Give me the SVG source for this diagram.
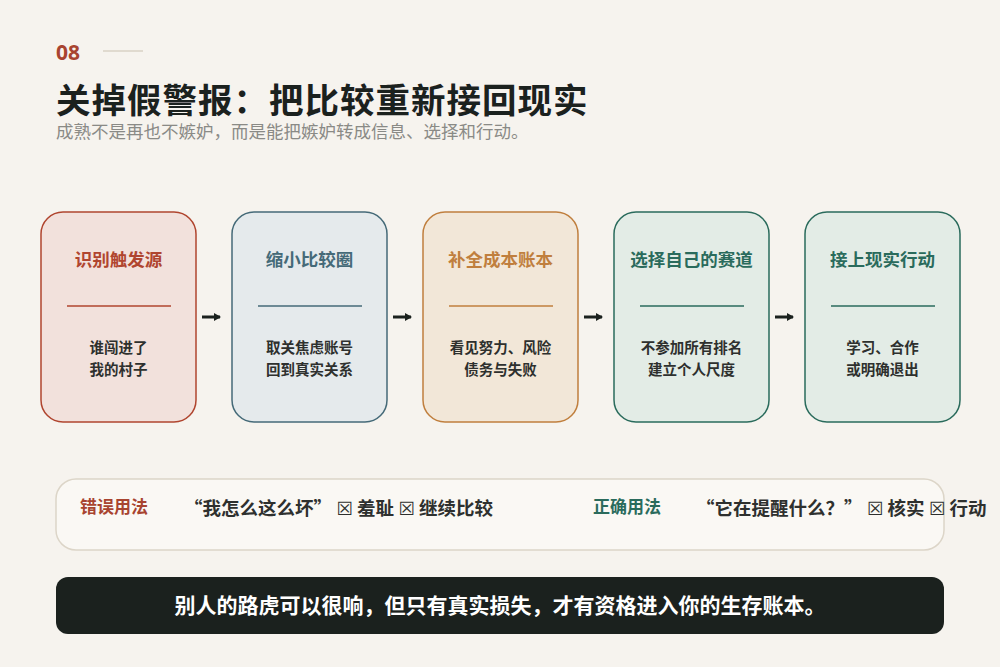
<svg xmlns="http://www.w3.org/2000/svg" width="1000" height="667" viewBox="0 0 1000 667">
<defs>
<marker id="ah" markerWidth="8" markerHeight="8" refX="6" refY="4" orient="auto" markerUnits="userSpaceOnUse">
<path d="M0,0 L7,4 L0,8 Z" fill="#1b211e"/>
</marker>
<style>
text{font-family:"Noto Sans CJK SC","Noto Sans",sans-serif;}
.node rect{stroke-width:1.5;}
.t{font-size:17.5px;font-weight:700;text-anchor:middle;}
.b{font-size:14.5px;font-weight:700;fill:#2e302e;text-anchor:middle;}
.conn line{stroke:#1b211e;stroke-width:3;}
.ph{font-size:18.5px;font-weight:700;fill:#2e302e;}
.x{font-family:"DejaVu Sans",sans-serif;font-weight:400;}
</style>
</defs>
<rect width="1000" height="667" fill="#f6f3ee"/>
<g id="header">
<text x="56" y="60" font-size="21" font-weight="700" fill="#a84430" style="font-family:'Noto Sans','Noto Sans CJK SC',sans-serif">08</text>
<line x1="103" y1="51" x2="143" y2="51" stroke="#d9d2c5" stroke-width="1.5"/>
<text x="56" y="113" font-size="34.5" font-weight="700" fill="#1b211e" letter-spacing="1">关掉假警报：把比较重新接回现实</text>
<text x="56" y="138" font-size="17.5" fill="#8a8a86">成熟不是再也不嫉妒，而是能把嫉妒转成信息、选择和行动。</text>
</g>
<g id="n1" class="node">
<rect x="41" y="212" width="155" height="210" rx="22" fill="#f2e1dc" stroke="#b0452f"/>
<text x="118.5" y="266" class="t" fill="#b0452f">识别触发源</text>
<line x1="67" y1="306" x2="171" y2="306" stroke="#b0452f" stroke-width="1.5"/>
<text x="118.5" y="353" class="b">谁闯进了</text>
<text x="118.5" y="375" class="b">我的村子</text>
</g>
<g id="n2" class="node">
<rect x="232" y="212" width="155" height="210" rx="22" fill="#e5eaec" stroke="#456a78"/>
<text x="309.5" y="266" class="t" fill="#456a78">缩小比较圈</text>
<line x1="258" y1="306" x2="362" y2="306" stroke="#456a78" stroke-width="1.5"/>
<text x="309.5" y="353" class="b">取关焦虑账号</text>
<text x="309.5" y="375" class="b">回到真实关系</text>
</g>
<g id="n3" class="node">
<rect x="423" y="212" width="155" height="210" rx="22" fill="#f2e7d8" stroke="#c07f3e"/>
<text x="500.5" y="266" class="t" fill="#c07f3e">补全成本账本</text>
<line x1="449" y1="306" x2="553" y2="306" stroke="#c07f3e" stroke-width="1.5"/>
<text x="500.5" y="353" class="b">看见努力、风险</text>
<text x="500.5" y="375" class="b">债务与失败</text>
</g>
<g id="n4" class="node">
<rect x="614" y="212" width="155" height="210" rx="22" fill="#e3ece6" stroke="#2a6b5c"/>
<text x="691.5" y="266" class="t" fill="#2a6b5c">选择自己的赛道</text>
<line x1="640" y1="306" x2="744" y2="306" stroke="#2a6b5c" stroke-width="1.5"/>
<text x="691.5" y="353" class="b">不参加所有排名</text>
<text x="691.5" y="375" class="b">建立个人尺度</text>
</g>
<g id="n5" class="node">
<rect x="805" y="212" width="155" height="210" rx="22" fill="#e3ece6" stroke="#2a6b5c"/>
<text x="882.5" y="266" class="t" fill="#2a6b5c">接上现实行动</text>
<line x1="831" y1="306" x2="935" y2="306" stroke="#2a6b5c" stroke-width="1.5"/>
<text x="882.5" y="353" class="b">学习、合作</text>
<text x="882.5" y="375" class="b">或明确退出</text>
</g>
<g id="connectors" class="conn">
<line x1="202" y1="317" x2="220" y2="317" marker-end="url(#ah)"/>
<line x1="393" y1="317" x2="411" y2="317" marker-end="url(#ah)"/>
<line x1="584" y1="317" x2="602" y2="317" marker-end="url(#ah)"/>
<line x1="775" y1="317" x2="793" y2="317" marker-end="url(#ah)"/>
</g>
<g id="usage">
<rect x="56" y="479" width="888" height="71" rx="20" fill="#faf8f4" stroke="#dcd5c8" stroke-width="1.5"/>
<text x="80" y="513" font-size="17" font-weight="700" fill="#a84430">错误用法</text>
<text x="184" y="515" class="ph">“我怎么这么坏” <tspan class="x">☒</tspan> 羞耻 <tspan class="x">☒</tspan> 继续比较</text>
<text x="593" y="513" font-size="17" font-weight="700" fill="#2a6b5c">正确用法</text>
<text x="696" y="515" class="ph">“它在提醒什么？” <tspan class="x">☒</tspan> 核实 <tspan class="x">☒</tspan> 行动</text>
</g>
<g id="banner">
<rect x="56" y="577" width="888" height="57" rx="12" fill="#1b211e"/>
<text x="500" y="613" font-size="21" font-weight="700" fill="#ffffff" text-anchor="middle">别人的路虎可以很响，但只有真实损失，才有资格进入你的生存账本。</text>
</g>
</svg>
